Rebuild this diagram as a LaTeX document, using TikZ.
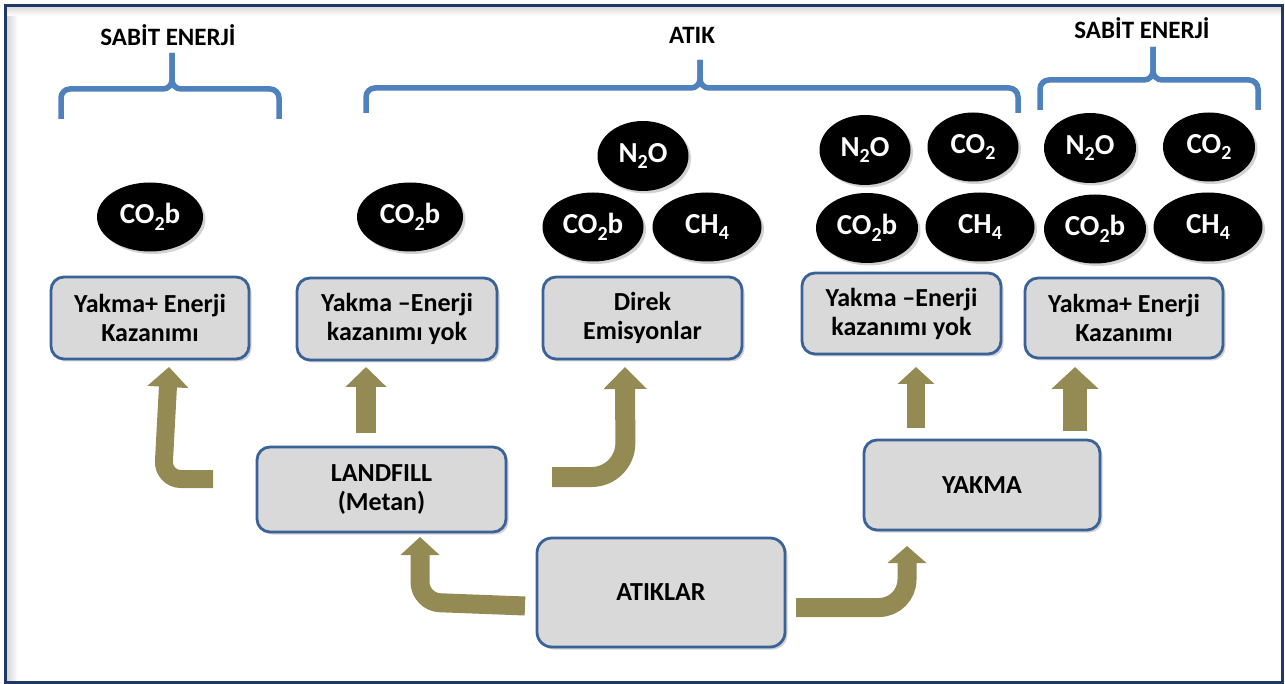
\documentclass[tikz,border=0pt]{standalone}
\usepackage{fontspec}
\setmainfont{Carlito}
\usetikzlibrary{shapes.geometric,arrows.meta,shadows}
\definecolor{framec}{HTML}{1F3864}
\definecolor{bracec}{HTML}{4F81BD}
\definecolor{boxfill}{HTML}{D9D9D9}
\definecolor{boxline}{HTML}{3A6297}
\definecolor{arrowc}{HTML}{948A54}
\newcommand\lowsub[1]{\raisebox{-0.22em}{\fontsize{20}{20}\selectfont #1}}
\begin{document}
\begin{tikzpicture}[x=1pt,y=-1pt,
  procbox/.style={draw=boxline, fill=boxfill, line width=2.8pt, rounded corners=13pt,
    align=center, font=\fontsize{26}{29}\selectfont\bfseries, inner sep=0pt,
    drop shadow={opacity=0.35,shadow xshift=2.5pt,shadow yshift=-2.5pt}},
  gas/.style={ellipse, fill=black, text=white, inner sep=0pt,
    font=\fontsize{29}{30}\selectfont\bfseries, minimum height=69pt,
    drop shadow={opacity=0.35,shadow xshift=2.5pt,shadow yshift=-2.5pt}},
  bracepath/.style={draw=bracec, line width=5.5pt, rounded corners=9pt},
  toplabel/.style={font=\fontsize{25}{27}\selectfont\bfseries},
  blk/.style={draw=arrowc, line width=20pt, -{Triangle[width=40pt,length=20pt]}},
]
\useasboundingbox (0,0) rectangle (1285,684);
\fill[white] (0,0) rectangle (1285,684);
% inner soft shadow of frame
\fill[left color=black!16, right color=white] (7,7) rectangle (18,681);
\fill[top color=black!14, bottom color=white] (7,7) rectangle (1281,16);
\draw[framec, line width=3pt] (5.5,5.5) rectangle (1282.5,682.5);

% top labels
\node[toplabel] (l1) at (168,35) {SABİT ENERJİ};
\node[toplabel] (l2) at (692,35) {ATIK};
\node[toplabel] (l3) at (1142,28) {SABİT ENERJİ};

% braces
\draw[bracepath] (61,119) -- (61,89) -- (172,89) -- (172,53);
\draw[bracepath] (279,119) -- (279,89) -- (172,89) -- (172,53);
\draw[bracepath] (366,113) -- (366,88) -- (700,88) -- (700,60);
\draw[bracepath] (1018,113) -- (1018,88) -- (700,88) -- (700,60);
\draw[bracepath] (1040,110) -- (1040,80) -- (1153,80) -- (1153,47);
\draw[bracepath] (1258,110) -- (1258,80) -- (1153,80) -- (1153,47);

% gases
\node[gas, minimum width=106pt] (e1) at (150,217) {CO\lowsub{2}b};
\node[gas, minimum width=106pt] (e2) at (410,217) {CO\lowsub{2}b};
\node[gas, minimum width=91pt, minimum height=70pt] (e3) at (643,156) {N\lowsub{2}O};
\node[gas, minimum width=101pt] (e4) at (593,227) {CO\lowsub{2}b};
\node[gas, minimum width=109pt] (e5) at (707,227) {CH\lowsub{4}};
\node[gas, minimum width=91pt, minimum height=70pt] (e6) at (865,150) {N\lowsub{2}O};
\node[gas, minimum width=91pt] (e7) at (973,147) {CO\lowsub{2}};
\node[gas, minimum width=102pt, minimum height=70pt] (e8) at (867,228) {CO\lowsub{2}b};
\node[gas, minimum width=109pt] (e9) at (980,227) {CH\lowsub{4}};
\node[gas, minimum width=92pt, minimum height=70pt] (e10) at (1090,148) {N\lowsub{2}O};
\node[gas, minimum width=92pt] (e11) at (1209,147) {CO\lowsub{2}};
\node[gas, minimum width=102pt] (e12) at (1095,229) {CO\lowsub{2}b};
\node[gas, minimum width=109pt] (e13) at (1208,227) {CH\lowsub{4}};

% process boxes
\node[procbox, minimum width=198pt, minimum height=82pt] (b1) at (150,318) {Yakma+ Enerji\\Kazanımı};
\node[procbox, minimum width=200pt, minimum height=82pt] (b2) at (397,319) {Yakma –Enerji\\kazanımı yok};
\node[procbox, minimum width=199pt, minimum height=82pt] (b3) at (642.5,318) {Direk\\Emisyonlar};
\node[procbox, minimum width=199pt, minimum height=81pt] (b4) at (901.5,313.5) {Yakma –Enerji\\kazanımı yok};
\node[procbox, minimum width=198pt, minimum height=80pt] (b5) at (1124,318) {Yakma+ Enerji\\Kazanımı};
\node[procbox, minimum width=249pt, minimum height=85pt] (lf) at (381.5,489.5) {LANDFILL\\(Metan)};
\node[procbox, minimum width=236pt, minimum height=90pt] (yk) at (982,485) {YAKMA};
\node[procbox, minimum width=248pt, minimum height=109pt, rounded corners=15pt] (at) at (661,592.5) {ATIKLAR};

% arrow end points
\coordinate (a1s) at (213,479);
\coordinate (a1e) at (169,367);
\coordinate (a2s) at (366,433);
\coordinate (a2e) at (366,367);
\coordinate (a3s) at (552,477);
\coordinate (a3e) at (625,367);
\coordinate (a4s) at (525,606);
\coordinate (a4e) at (420,537);
\coordinate (a5s) at (796,607.5);
\coordinate (a5e) at (907,546);
\coordinate (a6s) at (916,428);
\coordinate (a6e) at (916,367);
\coordinate (a7s) at (1075,431);
\coordinate (a7e) at (1075,367);

% arrows
\draw[blk, line width=18pt, rounded corners=18pt] (a1s) -- (163,479) -- (a1e);
\draw[blk] (a2s) -- (a2e);
\draw[blk, -{Triangle[width=42pt,length=22pt]}, rounded corners=34pt] (a3s) -- (625.5,477) -- (a3e);
\draw[blk, line width=19pt, -{Triangle[width=38pt,length=18pt]}, rounded corners=20pt] (a4s) -- (420,602) -- (a4e);
\draw[blk, line width=19pt, -{Triangle[width=38pt,length=17pt]}, rounded corners=28pt] (a5s) -- (907,607.5) -- (a5e);
\draw[blk, line width=18pt, -{Triangle[width=36pt,length=17pt]}] (a6s) -- (a6e);
\draw[blk, line width=24pt, -{Triangle[width=46pt,length=22pt]}] (a7s) -- (a7e);
\end{tikzpicture}
\end{document}
